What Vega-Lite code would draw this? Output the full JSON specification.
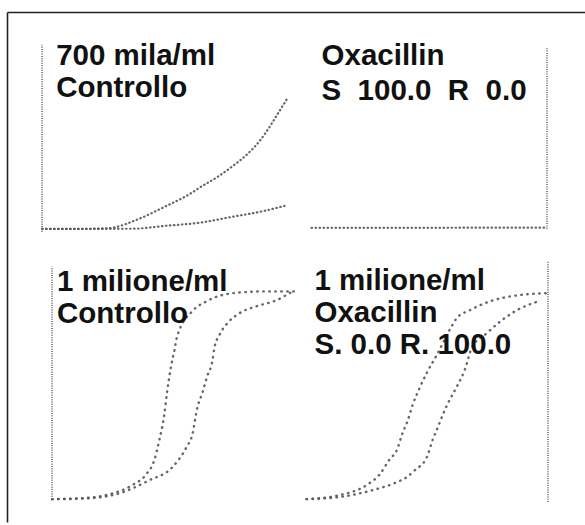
{
  "$schema": "https://vega.github.io/schema/vega-lite/v6.json",
  "width": 585,
  "height": 525,
  "autosize": {"type": "fit", "contains": "padding"},
  "padding": {"left": 4, "top": 12, "right": 0, "bottom": 0},
  "background": "white",
  "config": {"view": {"stroke": null}},
  "resolve": {"scale": {"x": "independent", "y": "independent"}},
  "layer": [
    {
      "data": {"values": [{"a": 0, "b": 0}]},
      "mark": {"type": "point", "opacity": 0},
      "encoding": {
        "x": {"field": "a", "type": "quantitative", "scale": {"domain": [0, 1]},
          "axis": {"orient": "top", "title": null, "labels": false, "ticks": false, "grid": false, "domainColor": "#222", "domainWidth": 1.6, "minExtent": 0, "maxExtent": 0, "offset": 0}},
        "y": {"field": "b", "type": "quantitative", "scale": {"domain": [0, 1]},
          "axis": {"orient": "left", "title": null, "labels": false, "ticks": false, "grid": false, "domainColor": "#222", "domainWidth": 1.6, "minExtent": 0, "maxExtent": 0, "offset": 0}}
      }
    },
    {
      "encoding": {
        "x": {"field": "t", "type": "quantitative", "scale": {"domain": [-2.893, 44.79], "nice": false, "zero": false}, "axis": null},
        "y": {"field": "v", "type": "quantitative", "scale": {"domain": [-155.3, 117.55], "nice": false, "zero": false}, "axis": null}
      },
      "layer": [
        {
          "data": {"values": [
            {"s": "u", "t": 0, "v": 1.5}, {"s": "u", "t": 2, "v": 1.5}, {"s": "u", "t": 4, "v": 1.6}, {"s": "u", "t": 5.5, "v": 1.9},
            {"s": "u", "t": 8, "v": 6.9}, {"s": "u", "t": 10.25, "v": 13.8}, {"s": "u", "t": 11.9, "v": 19.1}, {"s": "u", "t": 13.22, "v": 24.5},
            {"s": "u", "t": 14.63, "v": 30.0}, {"s": "u", "t": 15.7, "v": 35.0}, {"s": "u", "t": 17.11, "v": 42.6}, {"s": "u", "t": 17.93, "v": 48.4},
            {"s": "u", "t": 18.76, "v": 56.0}, {"s": "u", "t": 19.34, "v": 62.0}, {"s": "u", "t": 20.17, "v": 70.7},
            {"s": "l", "t": 0, "v": 1.5}, {"s": "l", "t": 3, "v": 1.5}, {"s": "l", "t": 7.44, "v": 1.6}, {"s": "l", "t": 10.25, "v": 3.2},
            {"s": "l", "t": 12.98, "v": 4.8}, {"s": "l", "t": 15.7, "v": 8.0}, {"s": "l", "t": 17.93, "v": 10.6}, {"s": "l", "t": 20, "v": 13.8}
          ]},
          "mark": {"type": "line", "interpolate": "monotone", "color": "#555", "strokeWidth": 2.2, "strokeCap": "round", "strokeDash": [0.5, 3.5], "opacity": 0.9},
          "encoding": {"detail": {"field": "s"}}
        },
        {
          "data": {"values": [{"t": 0, "v": 0, "v2": 100}]},
          "mark": {"type": "rule", "color": "#777", "strokeWidth": 1.8, "strokeDash": [1, 1.3]},
          "encoding": {"y2": {"field": "v2"}}
        },
        {
          "data": {"values": [{"t": 1.16, "v": 89.4, "label": "700 mila/ml"}, {"t": 1.16, "v": 72.3, "label": "Controllo"}]},
          "mark": {"type": "text", "align": "left", "baseline": "alphabetic", "font": "Liberation Sans", "fontWeight": "bold", "fontSize": 29.5, "color": "#111"},
          "encoding": {"text": {"field": "label"}}
        }
      ]
    },
    {
      "encoding": {
        "x": {"field": "t", "type": "quantitative", "scale": {"domain": [-25.87, 23.23], "nice": false, "zero": false}, "axis": null},
        "y": {"field": "v", "type": "quantitative", "scale": {"domain": [-162.1, 119.78], "nice": false, "zero": false}, "axis": null}
      },
      "layer": [
        {
          "data": {"values": [
            {"s": "a", "t": 0, "v": 0.5}, {"s": "a", "t": 5, "v": 0.5}, {"s": "a", "t": 10, "v": 0.5}, {"s": "a", "t": 15, "v": 0.6}, {"s": "a", "t": 20, "v": 0.6}
          ]},
          "mark": {"type": "line", "interpolate": "monotone", "color": "#555", "strokeWidth": 2.2, "strokeCap": "round", "strokeDash": [0.5, 3.5], "opacity": 0.9},
          "encoding": {"detail": {"field": "s"}}
        },
        {
          "data": {"values": [{"t": 20, "v": 0, "v2": 100}]},
          "mark": {"type": "rule", "color": "#777", "strokeWidth": 1.8, "strokeDash": [1, 1.3]},
          "encoding": {"y2": {"field": "v2"}}
        },
        {
          "data": {"values": [{"t": 0.85, "v": 90.7, "label": "Oxacillin"}, {"t": 0.85, "v": 71.4, "label": "S\u00a0\u00a0100.0\u00a0\u00a0R\u00a0\u00a00.0"}]},
          "mark": {"type": "text", "align": "left", "baseline": "alphabetic", "font": "Liberation Sans", "fontWeight": "bold", "fontSize": 29.5, "color": "#111"},
          "encoding": {"text": {"field": "label"}}
        }
      ]
    },
    {
      "encoding": {
        "x": {"field": "t", "type": "quantitative", "scale": {"domain": [-3.644, 43.08], "nice": false, "zero": false}, "axis": null},
        "y": {"field": "v", "type": "quantitative", "scale": {"domain": [-9.83, 209.4], "nice": false, "zero": false}, "axis": null}
      },
      "layer": [
        {
          "data": {"values": [
            {"s": "a", "t": 0, "v": 0}, {"s": "a", "t": 2.43, "v": 0.4}, {"s": "a", "t": 4.62, "v": 2.1}, {"s": "a", "t": 6.48, "v": 6.0},
            {"s": "a", "t": 7.61, "v": 10.7}, {"s": "a", "t": 8.26, "v": 16.7}, {"s": "a", "t": 8.66, "v": 25.2}, {"s": "a", "t": 9.07, "v": 36.3},
            {"s": "a", "t": 9.31, "v": 46.6}, {"s": "a", "t": 9.64, "v": 57.7}, {"s": "a", "t": 9.88, "v": 63.7}, {"s": "a", "t": 10.12, "v": 70.1},
            {"s": "a", "t": 11.34, "v": 80.8}, {"s": "a", "t": 12.47, "v": 85.0}, {"s": "a", "t": 14.57, "v": 88.5}, {"s": "a", "t": 17.33, "v": 89.3},
            {"s": "a", "t": 19.76, "v": 89.3},
            {"s": "b", "t": 0, "v": 0}, {"s": "b", "t": 2.43, "v": 0.2}, {"s": "b", "t": 5.18, "v": 2.1}, {"s": "b", "t": 7.85, "v": 8.1},
            {"s": "b", "t": 9.72, "v": 13.7}, {"s": "b", "t": 10.85, "v": 22.2}, {"s": "b", "t": 11.34, "v": 27.8}, {"s": "b", "t": 11.74, "v": 39.3},
            {"s": "b", "t": 12.15, "v": 45.7}, {"s": "b", "t": 12.55, "v": 53.0}, {"s": "b", "t": 12.96, "v": 59.4}, {"s": "b", "t": 13.12, "v": 65.0},
            {"s": "b", "t": 13.52, "v": 70.5}, {"s": "b", "t": 14.17, "v": 75.6}, {"s": "b", "t": 15.14, "v": 79.9}, {"s": "b", "t": 16.52, "v": 82.9},
            {"s": "b", "t": 18.14, "v": 85.5}, {"s": "b", "t": 19.43, "v": 89.3}
          ]},
          "mark": {"type": "line", "interpolate": "monotone", "color": "#555", "strokeWidth": 2.4, "strokeCap": "round", "strokeDash": [0.5, 5.5], "opacity": 0.9},
          "encoding": {"detail": {"field": "s"}}
        },
        {
          "data": {"values": [{"t": 0, "v": 0, "v2": 100}]},
          "mark": {"type": "rule", "color": "#777", "strokeWidth": 1.8, "strokeDash": [1, 1.3]},
          "encoding": {"y2": {"field": "v2"}}
        },
        {
          "data": {"values": [{"t": 0.4, "v": 89.3, "label": "1 milione/ml"}, {"t": 0.4, "v": 75.6, "label": "Controllo"}]},
          "mark": {"type": "text", "align": "left", "baseline": "alphabetic", "font": "Liberation Sans", "fontWeight": "bold", "fontSize": 29.5, "color": "#111"},
          "encoding": {"text": {"field": "label"}}
        }
      ]
    },
    {
      "encoding": {
        "x": {"field": "t", "type": "quantitative", "scale": {"domain": [-24.81, 23.07], "nice": false, "zero": false}, "axis": null},
        "y": {"field": "v", "type": "quantitative", "scale": {"domain": [-9.17, 204.58], "nice": false, "zero": false}, "axis": null}
      },
      "layer": [
        {
          "data": {"values": [
            {"s": "a", "t": 0, "v": 0.4}, {"s": "a", "t": 2.74, "v": 2.1}, {"s": "a", "t": 4.98, "v": 6.3}, {"s": "a", "t": 6.06, "v": 10.8},
            {"s": "a", "t": 6.89, "v": 17.1}, {"s": "a", "t": 7.47, "v": 20.8}, {"s": "a", "t": 7.97, "v": 28.3}, {"s": "a", "t": 8.38, "v": 33.3},
            {"s": "a", "t": 8.8, "v": 40.0}, {"s": "a", "t": 9.38, "v": 47.1}, {"s": "a", "t": 9.96, "v": 53.3}, {"s": "a", "t": 10.79, "v": 60.8},
            {"s": "a", "t": 12.03, "v": 72.9}, {"s": "a", "t": 12.45, "v": 76.3}, {"s": "a", "t": 13.53, "v": 79.6}, {"s": "a", "t": 15.19, "v": 83.3},
            {"s": "a", "t": 17.43, "v": 85.8}, {"s": "a", "t": 19.92, "v": 86.7},
            {"s": "b", "t": 0, "v": 0.4}, {"s": "b", "t": 2.74, "v": 1.3}, {"s": "b", "t": 5.48, "v": 4.2}, {"s": "b", "t": 7.47, "v": 7.5},
            {"s": "b", "t": 8.3, "v": 9.6}, {"s": "b", "t": 8.96, "v": 12.5}, {"s": "b", "t": 9.96, "v": 17.9}, {"s": "b", "t": 10.46, "v": 25.4},
            {"s": "b", "t": 10.87, "v": 30.4}, {"s": "b", "t": 11.29, "v": 35.8}, {"s": "b", "t": 11.87, "v": 42.1}, {"s": "b", "t": 12.53, "v": 48.3},
            {"s": "b", "t": 13.11, "v": 54.6}, {"s": "b", "t": 13.69, "v": 63.8}, {"s": "b", "t": 14.94, "v": 70.0}, {"s": "b", "t": 16.18, "v": 75.4},
            {"s": "b", "t": 17.43, "v": 79.6}, {"s": "b", "t": 19.17, "v": 83.3}
          ]},
          "mark": {"type": "line", "interpolate": "monotone", "color": "#555", "strokeWidth": 2.4, "strokeCap": "round", "strokeDash": [0.5, 5.5], "opacity": 0.9},
          "encoding": {"detail": {"field": "s"}}
        },
        {
          "data": {"values": [{"t": 20, "v": -0.8, "v2": 100}]},
          "mark": {"type": "rule", "color": "#777", "strokeWidth": 1.8, "strokeDash": [1, 1.3]},
          "encoding": {"y2": {"field": "v2"}}
        },
        {
          "data": {"values": [{"t": 0.66, "v": 87.9, "label": "1 milione/ml"}, {"t": 0.66, "v": 74.6, "label": "Oxacillin"}, {"t": 0.66, "v": 61.25, "label": "S. 0.0 R. 100.0"}]},
          "mark": {"type": "text", "align": "left", "baseline": "alphabetic", "font": "Liberation Sans", "fontWeight": "bold", "fontSize": 29.5, "color": "#111"},
          "encoding": {"text": {"field": "label"}}
        }
      ]
    }
  ]
}
